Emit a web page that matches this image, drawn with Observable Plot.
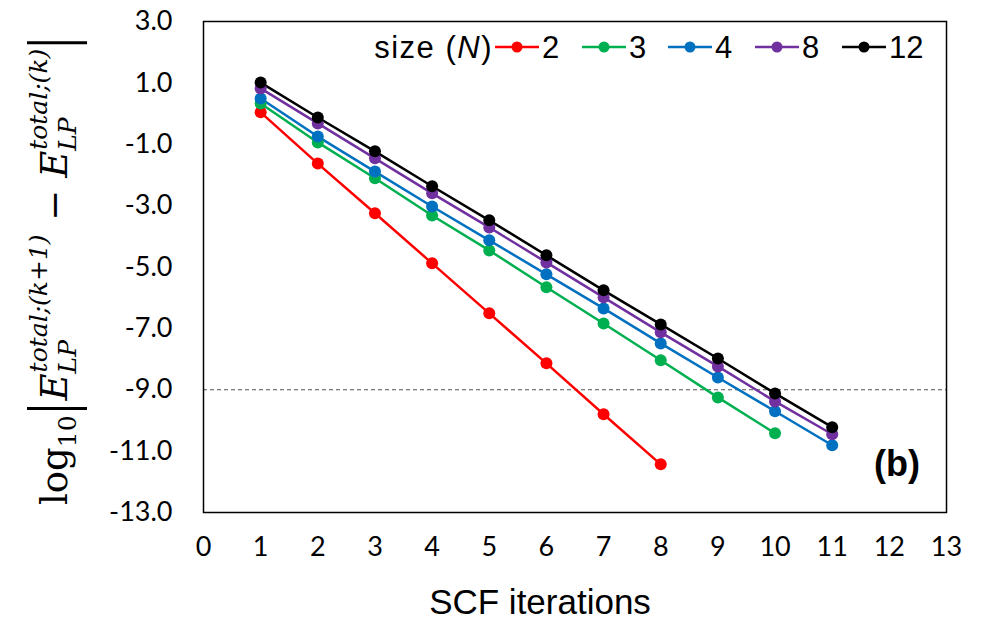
<!DOCTYPE html>
<html><head><meta charset="utf-8">
<script src="https://cdn.jsdelivr.net/npm/d3@7"></script>
<script src="https://cdn.jsdelivr.net/npm/@observablehq/plot@0.6"></script>
<style>body{margin:0;background:#fff}</style>
</head><body><div id="chart"></div>
<script>
const iterations = [1,2,3,4,5,6,7,8,9,10,11];
const sizes = ["2","3","4","8","12"];
const colors = ["#FF0000","#00B050","#0070C0","#7030A0","#000000"];
const s2  = [0.04, -1.63, -3.25, -4.88, -6.51, -8.14, -9.80, -11.43];
const s3  = [0.33, -0.94, -2.11, -3.32, -4.46, -5.66, -6.84, -8.04, -9.25, -10.42];
const s4  = [0.49, -0.75, -1.89, -3.03, -4.13, -5.24, -6.35, -7.49, -8.60, -9.70, -10.81];
const s8  = [0.82, -0.32, -1.46, -2.60, -3.71, -4.85, -5.99, -7.13, -8.24, -9.38, -10.45];
const s12 = [1.01, -0.13, -1.23, -2.37, -3.48, -4.62, -5.76, -6.87, -7.98, -9.12, -10.22];
const xTicks = [0,1,2,3,4,5,6,7,8,9,10,11,12,13];
const yTicks = [3,1,-1,-3,-5,-7,-9,-11,-13];
const threshold = -9;

const seriesList = [s2, s3, s4, s8, s12];
const data = [];
seriesList.forEach((s, i) => s.forEach((v, j) => data.push({size: sizes[i], it: iterations[j], v})));

const plot = Plot.plot({
  width: 983, height: 623,
  marginLeft: 203, marginRight: 37, marginTop: 21, marginBottom: 111,
  style: {fontFamily: "Lato, sans-serif", fontSize: "27px", color: "#000", background: "#fff"},
  x: {domain: [0, 13]},
  y: {domain: [-13, 3]},
  color: {domain: sizes, range: colors},
  marks: [
    Plot.ruleY([threshold], {stroke: "#555", strokeWidth: 1, strokeDasharray: "4,3"}),
    Plot.line(data, {x: "it", y: "v", z: "size", stroke: "size", strokeWidth: 2.5}),
    Plot.dot(data, {x: "it", y: "v", fill: "size", r: 6}),
    Plot.frame({stroke: "#000", strokeWidth: 1.5}),
    Plot.axisX({ticks: xTicks, tickSize: 0, tickPadding: 24, fontSize: 27, label: null, tickFormat: d => String(d)}),
    Plot.axisY({ticks: yTicks, tickSize: 0, tickPadding: 31, fontSize: 27, label: null, tickFormat: d => d.toFixed(1)})
  ]
});
document.getElementById("chart").appendChild(plot);

const svg = d3.select(plot);
// x-axis title
svg.append("text").attr("x", 540).attr("y", 614).attr("text-anchor", "middle")
  .style("font-family", "Liberation Sans, Arial, sans-serif").style("font-size", "35px").attr("fill", "#000")
  .text("SCF iterations");

// y-axis title (math), laid out along a rotated baseline
const g = svg.append("g").attr("transform", "translate(67,505) rotate(-90)")
  .attr("text-anchor", "start")
  .style("font-family", "DejaVu Serif, Liberation Serif, serif").attr("fill", "#000");
let cx = 0;
function piece(str, size, dy, italic, advance = true) {
  const t = g.append("text").attr("x", cx).attr("y", dy).attr("text-anchor", "start")
    .style("font-size", size + "px")
    .style("font-style", italic ? "italic" : "normal").text(str);
  const w = t.node().getComputedTextLength();
  if (advance) cx += w;
  return w;
}
function bar() {
  g.append("line").attr("x1", cx).attr("x2", cx).attr("y1", -40).attr("y2", 20)
    .attr("stroke", "#000").attr("stroke-width", 3);
}
piece("log", 37, 0, false);
piece("10", 25, 9, false);
cx += 7; bar(); cx += 8;
piece("E", 37, 0, true);
const xs1 = cx;
const wsub1 = piece("LP", 25, 9, true, false);
cx = xs1 + 1;
piece("total;(k+1)", 25, -20, true);
cx = Math.max(cx, xs1 + wsub1);
cx += 2;
piece(" − ", 37, 0, false);
piece("E", 37, 0, true);
const xs2 = cx;
const wsub2 = piece("LP", 25, 9, true, false);
cx = xs2 + 1;
piece("total;(k)", 25, -20, true);
cx = Math.max(cx, xs2 + wsub2) + 6;
bar();

// legend
const lg = svg.append("g").attr("text-anchor", "start")
  .style("font-family", "Liberation Sans, Arial, sans-serif").style("font-size", "31px");
const ly = 47;
const lt = lg.append("text").attr("x", 493).attr("y", ly).attr("dy", "0.35em").attr("text-anchor", "end")
  .attr("fill", "#000").style("letter-spacing", "1.5px");
lt.append("tspan").text("size (");
lt.append("tspan").style("font-style", "italic").text("N");
lt.append("tspan").text(")");
const lx = [495, 582, 668, 755, 842];
sizes.forEach((s, i) => {
  const x0 = lx[i];
  lg.append("line").attr("x1", x0).attr("x2", x0 + 44).attr("y1", ly).attr("y2", ly)
    .attr("stroke", colors[i]).attr("stroke-width", 2.5);
  lg.append("circle").attr("cx", x0 + 22).attr("cy", ly).attr("r", 5.5).attr("fill", colors[i]);
  lg.append("text").attr("x", x0 + 47).attr("y", ly).attr("dy", "0.35em").attr("text-anchor", "start")
    .attr("fill", "#000").text(s);
});

// panel label
svg.append("text").attr("x", 920).attr("y", 476).attr("text-anchor", "end")
  .style("font-family", "Liberation Sans, Arial, sans-serif").style("font-weight", "bold")
  .style("font-size", "36px").attr("fill", "#000").text("(b)");
</script></body></html>
